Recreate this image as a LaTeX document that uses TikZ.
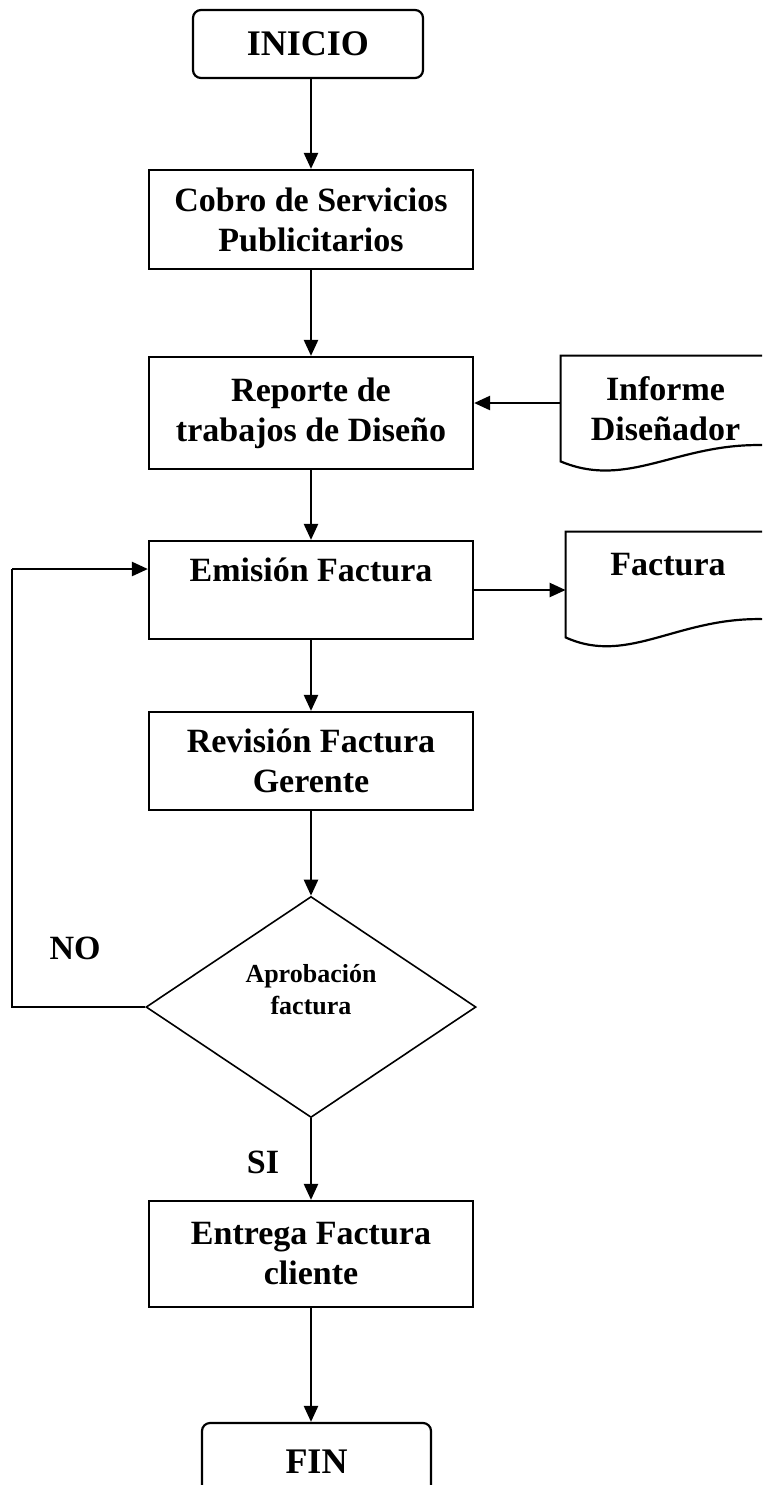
\documentclass[tikz,border=0pt]{standalone}
\usepackage{fontspec}
\setmainfont{Liberation Serif}
\usetikzlibrary{arrows.meta,shapes.geometric,calc}

\begin{document}
\begin{tikzpicture}[x=0.5pt,y=-0.5pt,
  every node/.style={font=\bfseries\fontsize{17}{20}\selectfont, align=center, inner sep=0pt},
  procbox/.style={draw, line width=1.1pt, minimum width=162pt},
  termbox/.style={draw, line width=1.1pt, rounded corners=4pt, minimum width=115pt,
    font=\bfseries\fontsize{18}{21}\selectfont},
  decbox/.style={draw, diamond, line width=0.8pt, minimum width=165pt, minimum height=110.5pt, aspect=1.5},
  docarea/.style={minimum width=104.5pt, minimum height=52.5pt},
  flow/.style={line width=1.2pt, -{Triangle[length=8pt,width=7pt]}},
  loopline/.style={line width=0.9pt},
  docline/.style={line width=1.1pt},
  smalltext/.style={font=\bfseries\fontsize{13}{16}\selectfont},
]
\clip (0,0) rectangle (762,1485);
\fill[white] (0,0) rectangle (762,1485);

% main column
\node[termbox, minimum height=34pt] (inicio) at (308,44) {INICIO};
\node[procbox, minimum height=49.5pt] (cobro) at (311,219.5) {Cobro de Servicios\\Publicitarios};
\node[procbox, minimum height=56pt] (reporte) at (311,413) {Reporte de\\trabajos de Diseño};
\node[procbox, minimum height=49pt] (emision) at (311,590) {Emisión Factura\\\mbox{}};
\node[procbox, minimum height=49pt] (revision) at (311,761) {Revisión Factura\\Gerente};
\node[decbox] (decision) at (311,1007) {};
\node[smalltext] (dectext) at (311,990) {Aprobación\\factura};
\node[procbox, minimum height=53pt] (entrega) at (311,1254) {Entrega Factura\\cliente};
\node[termbox, minimum height=39pt, minimum width=114.5pt] (fin) at (316.5,1462) {FIN};

% documents on the right
\node[docarea] (informe) at (665.5,408.5) {Informe\\Diseñador};
\draw[docline] (informe.north east) -- (informe.north west) -- (informe.south west)
  .. controls ($(informe.south west)+(69,29)$) and ($(informe.south west)+(119,-21)$)
  .. ($(informe.south east)+(0,-16)$);

\node[docarea, minimum width=102pt] (factura) at (668,584.5) {Factura\\\mbox{}};
\draw[docline] (factura.north east) -- (factura.north west) -- (factura.south west)
  .. controls ($(factura.south west)+(64,29)$) and ($(factura.south west)+(114,-23)$)
  .. ($(factura.south east)+(0,-18)$);

% labels
\node (nolabel) at (75,948) {NO};
\node (silabel) at (263,1162) {SI};

% connectors
\draw[flow] (cobro.north |- inicio.south) -- (cobro.north);
\draw[flow] (cobro) -- (reporte);
\draw[flow] (reporte) -- (emision);
\draw[flow] (emision) -- (revision);
\draw[flow] (revision) -- (decision);
\draw[flow] (decision) -- (entrega);
\draw[flow] (entrega.south) -- (entrega.south |- fin.north);

\coordinate (infout) at ($(informe.west)+(0,-5.5)$);
\draw[flow] (infout) -- (infout -| reporte.east);
\draw[flow] (emision.east) -- (emision.east -| factura.west);

\coordinate (loopturn) at (12,569);
\draw[loopline] (decision.west) -| (loopturn);
\draw[flow] (loopturn) -- (loopturn -| emision.west);
\end{tikzpicture}
\end{document}
